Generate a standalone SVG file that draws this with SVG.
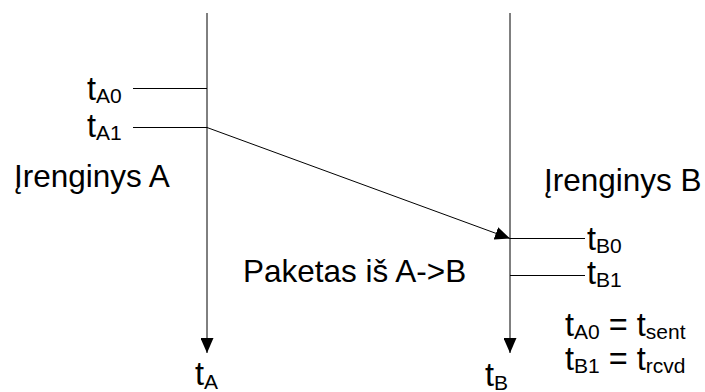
<svg xmlns="http://www.w3.org/2000/svg" width="705" height="392" viewBox="0 0 705 392">
  <style>
    .ln { stroke: #000; stroke-width: 1; fill: none; }
    .tx { font-family: "Liberation Sans", Arial, sans-serif; font-size: 32.5px; fill: #000; }
    .big { font-size: 31.5px; }
    .sub { font-size: 21px; }
  </style>
  <defs>
    <marker id="arrow" viewBox="0 0 15 13" refX="15" refY="6.5" markerWidth="15" markerHeight="13" markerUnits="userSpaceOnUse" orient="auto">
      <path d="M0,0 L15,6.5 L0,13 z" fill="#000"/>
    </marker>
  </defs>
  <rect width="705" height="392" fill="#fff"/>

  <g id="deviceA">
    <line class="ln" x1="207" y1="13" x2="207" y2="353" marker-end="url(#arrow)"/>
    <line class="ln" x1="133" y1="88.5" x2="207" y2="88.5"/>
    <line class="ln" x1="133" y1="127.5" x2="207" y2="127.5"/>
    <text class="tx" x="87" y="100">t<tspan class="sub" dy="3">A0</tspan></text>
    <text class="tx" x="87" y="137">t<tspan class="sub" dy="3">A1</tspan></text>
    <text class="tx big" x="14" y="187">Įrenginys A</text>
    <text class="tx" x="195" y="385">t<tspan class="sub" dy="4">A</tspan></text>
  </g>

  <g id="deviceB">
    <line class="ln" x1="510" y1="13" x2="510" y2="353" marker-end="url(#arrow)"/>
    <line class="ln" x1="510" y1="238.5" x2="585" y2="238.5"/>
    <line class="ln" x1="510" y1="275.5" x2="585" y2="275.5"/>
    <text class="tx" x="587" y="250">t<tspan class="sub" dy="3">B0</tspan></text>
    <text class="tx" x="587" y="284">t<tspan class="sub" dy="3">B1</tspan></text>
    <text class="tx big" x="544" y="191">Įrenginys B</text>
    <text class="tx" x="485" y="386">t<tspan class="sub" dy="4">B</tspan></text>
  </g>

  <g id="connectors">
    <line class="ln" x1="207" y1="127.5" x2="510" y2="238.5" marker-end="url(#arrow)"/>
  </g>

  <g id="labels">
    <text class="tx big" x="243" y="282">Paketas iš A-&gt;B</text>
    <text class="tx" x="565" y="336">t<tspan class="sub" dy="3">A0</tspan><tspan dy="-3"> = t</tspan><tspan class="sub" dy="3">sent</tspan></text>
    <text class="tx" x="565" y="370">t<tspan class="sub" dy="3">B1</tspan><tspan dy="-3"> = t</tspan><tspan class="sub" dy="3">rcvd</tspan></text>
  </g>
</svg>
